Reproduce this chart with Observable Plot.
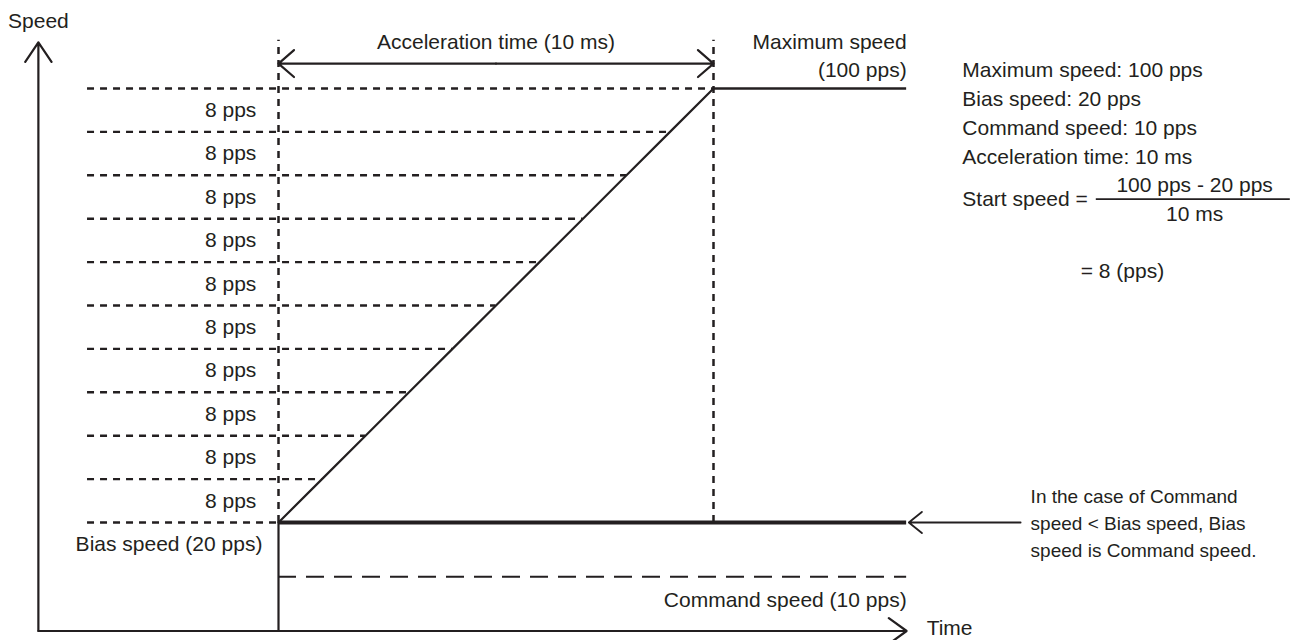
<!DOCTYPE html>
<html><head><meta charset="utf-8">
<script src="https://cdn.jsdelivr.net/npm/d3@7"></script>
<script src="https://cdn.jsdelivr.net/npm/@observablehq/plot@0.6"></script>
<style>body{margin:0;background:#fff}#chart svg{display:block}</style>
</head><body><div id="chart"></div>
<script>
// ---- Data (time in ms, speed in pps) ----
const accelTimes = [0, 10];
const rampTimes = [0, 1, 2, 3, 4, 5, 6, 7, 8, 9, 10];
const rampSpeeds = [20, 28, 36, 44, 52, 60, 68, 76, 84, 92, 100];
const stepLabels = ["8 pps", "8 pps", "8 pps", "8 pps", "8 pps", "8 pps", "8 pps", "8 pps", "8 pps", "8 pps"];
const biasSpeed = 20;
const maxSpeed = 100;
const commandSpeed = 10;
const infoLines = ["Maximum speed: 100 pps", "Bias speed: 20 pps", "Command speed: 10 pps", "Acceleration time: 10 ms"];
const formulaTexts = {label: "Start speed =", numerator: "100 pps - 20 pps", denominator: "10 ms", result: "= 8 (pps)"};
const noteText = "In the case of Command\nspeed < Bias speed, Bias\nspeed is Command speed.";

// ---- Layout (positions in data units) ----
const L = {
  axisX: -5.52, axisTop: 108.5, axisRight: 14.44,
  guideStart: -4.39, guideTop: 108.9, lineEnd: 14.44,
  accelArrowY: 104.6, accelLabelY: 108.5,
  stepLabelX: -0.51, biasLabelX: -0.37, biasLabelY: 15.9,
  infoX: 15.72, infoY: [103.3, 98.0, 92.6, 87.3],
  startY: 79.6, fracX1: 18.8, fracX2: 23.26, fracMid: 21.06, numY: 82.2, denY: 76.9, resultX: 19.4, resultY: 66.4,
  noteX: 17.29, noteY: 20.2, noteArrowStart: 17.06,
  cmdLabelY: 5.6, timeLabelX: 14.9, timeLabelY: 0.46,
  speedLabelY: 112.4,
  maxLabelY1: 108.5, maxLabelY2: 103.3
};

const ink = "#231f20";
const font = "'Liberation Sans', Arial, sans-serif";
const fs = 21;

const guides = rampSpeeds.map((s, i) => ({y: s, x1: L.guideStart, x2: rampTimes[i]}));
const stepMarks = stepLabels.map((t, i) => ({y: (rampSpeeds[i] + rampSpeeds[i + 1]) / 2, text: t}));
const ramp = rampTimes.map((t, i) => ({x: t, y: rampSpeeds[i]}));
const mid = (accelTimes[0] + accelTimes[1]) / 2;

const txt = (data, opts) => Plot.text(data, {fill: ink, fontSize: fs, ...opts});

const chart = Plot.plot({
  width: 1298, height: 640,
  marginTop: 0, marginRight: 0, marginBottom: 0, marginLeft: 0,
  x: {domain: [-278 / 43.5, (1298 - 278) / 43.5], axis: null},
  y: {domain: [-9.5 / 5.425, 630.5 / 5.425], axis: null},
  style: {fontFamily: font, color: ink, background: "#fff"},
  marks: [
    // dashed speed-step guides
    Plot.ruleY(guides, {y: "y", x1: "x1", x2: "x2", stroke: ink, strokeWidth: 2.4, strokeDasharray: "7,6"}),
    // vertical dashed lines at start/end of acceleration
    Plot.ruleX(accelTimes, {x: d => d, y1: biasSpeed, y2: L.guideTop, stroke: ink, strokeWidth: 2.5, strokeDasharray: "7,6"}),
    // vertical solid at start from 0 to bias
    Plot.ruleX([accelTimes[0]], {x: d => d, y1: 0, y2: biasSpeed, stroke: ink, strokeWidth: 2.2}),
    // command speed long-dashed
    Plot.ruleY([commandSpeed], {y: d => d, x1: accelTimes[0], x2: L.lineEnd, stroke: ink, strokeWidth: 2.2, strokeDasharray: "18,10"}),
    // ramp
    Plot.line(ramp, {x: "x", y: "y", stroke: ink, strokeWidth: 2.2}),
    // max speed line
    Plot.ruleY([maxSpeed], {y: d => d, x1: accelTimes[1], x2: L.lineEnd, stroke: ink, strokeWidth: 2.4}),
    // bias speed bold line
    Plot.ruleY([biasSpeed], {y: d => d, x1: accelTimes[0], x2: L.lineEnd, stroke: ink, strokeWidth: 3.8}),
    // axes with arrows
    Plot.arrow([{x1: L.axisX, y1: 0, x2: L.axisX, y2: L.axisTop}], {x1: "x1", y1: "y1", x2: "x2", y2: "y2", stroke: ink, strokeWidth: 2.2, headLength: 16, headAngle: 68}),
    Plot.arrow([{x1: L.axisX, y1: 0, x2: L.axisRight, y2: 0}], {x1: "x1", y1: "y1", x2: "x2", y2: "y2", stroke: ink, strokeWidth: 2.2, headLength: 15, headAngle: 72}),
    // acceleration time double arrow
    Plot.arrow([{x1: mid, x2: accelTimes[0]}, {x1: mid, x2: accelTimes[1]}], {x1: "x1", x2: "x2", y1: L.accelArrowY, y2: L.accelArrowY, stroke: ink, strokeWidth: 2.2, headLength: 14, headAngle: 82}),
    // note arrow
    Plot.arrow([{x1: L.noteArrowStart, x2: L.lineEnd + 0.05}], {x1: "x1", x2: "x2", y1: biasSpeed, y2: biasSpeed, stroke: ink, strokeWidth: 1.8, headLength: 14, headAngle: 78}),
    // fraction bar
    Plot.ruleY([L.startY], {y: d => d, x1: L.fracX1, x2: L.fracX2, stroke: ink, strokeWidth: 1.6}),
    // texts
    txt(stepMarks, {x: L.stepLabelX, y: "y", text: "text", textAnchor: "end"}),
    txt(["Bias speed (20 pps)"], {x: L.biasLabelX, y: L.biasLabelY, text: d => d, textAnchor: "end"}),
    txt(["Acceleration time (10 ms)"], {x: mid, y: L.accelLabelY, text: d => d}),
    txt(["Maximum speed", "(100 pps)"], {x: L.lineEnd, y: (d, i) => [L.maxLabelY1, L.maxLabelY2][i], text: d => d, textAnchor: "end"}),
    txt(["Command speed (10 pps)"], {x: L.lineEnd, y: L.cmdLabelY, text: d => d, textAnchor: "end"}),
    txt(["Time"], {x: L.timeLabelX, y: L.timeLabelY, text: d => d, textAnchor: "start"}),
    txt(["Speed"], {x: L.axisX, y: L.speedLabelY, text: d => d}),
    txt(infoLines, {x: L.infoX, y: (d, i) => L.infoY[i], text: d => d, textAnchor: "start"}),
    txt([formulaTexts.label], {x: L.infoX, y: L.startY, text: d => d, textAnchor: "start"}),
    txt([formulaTexts.numerator], {x: L.fracMid, y: L.numY, text: d => d}),
    txt([formulaTexts.denominator], {x: L.fracMid, y: L.denY, text: d => d}),
    txt([formulaTexts.result], {x: L.resultX, y: L.resultY, text: d => d}),
    txt([noteText], {x: L.noteX, y: L.noteY, text: d => d, textAnchor: "start", fontSize: 19, lineHeight: 1.42})
  ]
});
document.getElementById("chart").append(chart);
</script>
</body></html>
